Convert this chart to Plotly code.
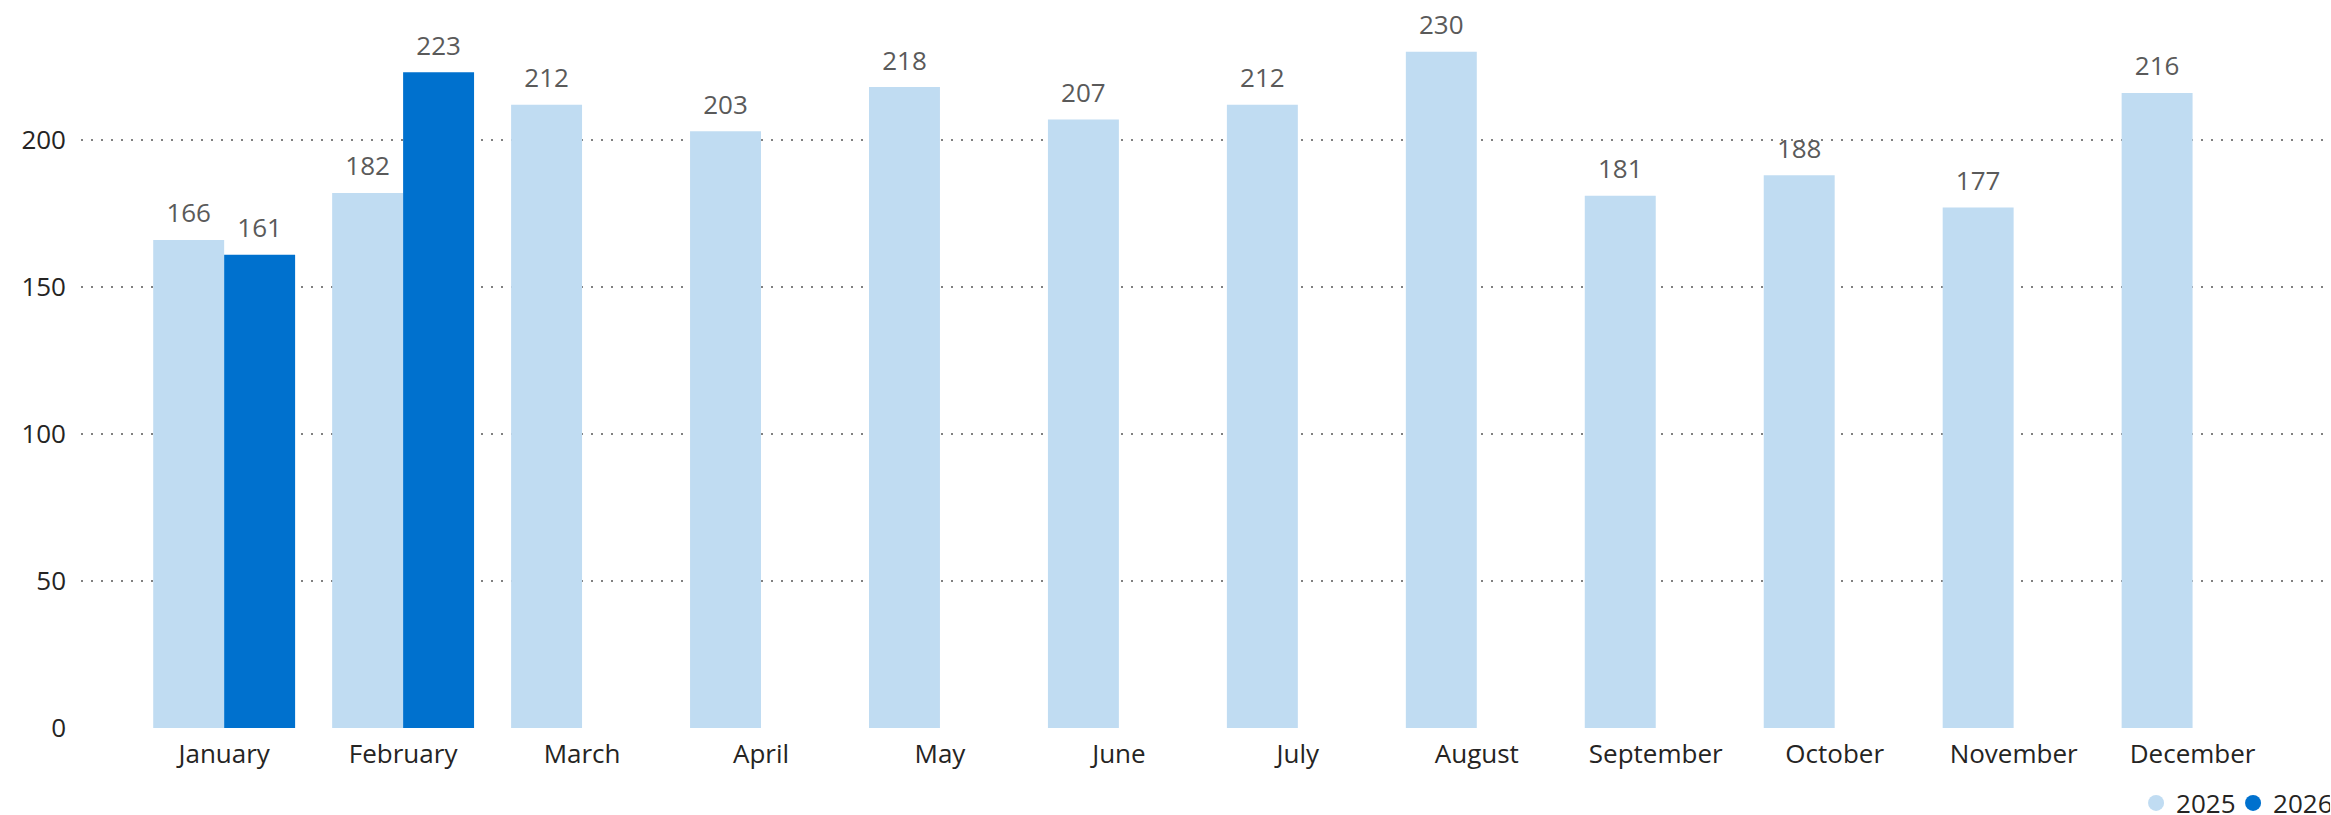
import plotly.graph_objects as go

months = ["January", "February", "March", "April", "May", "June", "July",
          "August", "September", "October", "November", "December"]
values_2025 = [166, 182, 212, 203, 218, 207, 212, 230, 181, 188, 177, 216]
values_2026 = [161, 223, None, None, None, None, None, None, None, None, None, None]
series_names = ["2025", "2026"]
colors = ["#C0DCF2", "#0071CE"]
y_ticks = [0, 50, 100, 150, 200]

FONT = "Segoe UI, Open Sans, sans-serif"
BARGAP = 0.207

fig = go.Figure()
for name, vals, col in zip(series_names, [values_2025, values_2026], colors):
    fig.add_trace(go.Bar(
        x=months, y=vals, name=name, marker_color=col, marker_line_width=0,
        showlegend=False, legendgroup=name, offsetgroup=name, alignmentgroup="a",
        hoverinfo="x+y",
    ))
for name, vals in zip(series_names, [values_2025, values_2026]):
    # data labels, grouped so they sit above their bars
    fig.add_trace(go.Scatter(
        x=months, y=vals, mode="markers+text", name=name + " labels",
        orientation="v", offsetgroup=name, alignmentgroup="a",
        text=[("" if v is None else str(v)) for v in vals],
        textposition="top center", cliponaxis=False,
        textfont=dict(family=FONT, size=26, color="#5A5A5A"),
        marker=dict(size=16, opacity=0), showlegend=False, hoverinfo="skip",
    ))
for name, col in zip(series_names, colors):
    # legend entries (circles), on a hidden overlay axis
    fig.add_trace(go.Scatter(
        x=[None], y=[None], mode="markers", name=name, legendgroup=name,
        marker=dict(symbol="circle", size=19, color=col),
        showlegend=True, hoverinfo="skip", xaxis="x2", yaxis="y2",
    ))

fig.update_layout(
    width=2331, height=815,
    margin=dict(l=81, r=6, t=10, b=87, autoexpand=False),
    paper_bgcolor="white", plot_bgcolor="white",
    barmode="group", bargap=BARGAP, bargroupgap=0,
    scattermode="group", scattergap=BARGAP,
    font=dict(family=FONT, size=26, color="#252423"),
    showlegend=True,
    legend=dict(orientation="h", x=0.9158, xanchor="left", y=-0.1045, yanchor="middle",
                font=dict(family=FONT, size=26, color="#252423"),
                itemwidth=30, entrywidth=52, entrywidthmode="pixels",
                bgcolor="rgba(0,0,0,0)", traceorder="normal"),
    xaxis=dict(range=[-0.8, 11.74], showgrid=False, zeroline=False, showline=False,
               ticks="", automargin=False, ticklabelstandoff=8,
               tickfont=dict(family=FONT, size=26, color="#252423")),
    yaxis=dict(range=[0, 244.2], tickvals=y_ticks, showgrid=True,
               gridcolor="#808080", gridwidth=2, griddash="2px,8px",
               zeroline=False, showline=False, ticks="", automargin=False,
               ticklabelstandoff=14,
               tickfont=dict(family=FONT, size=26, color="#252423")),
    xaxis2=dict(overlaying="x", visible=False, range=[0, 1]),
    yaxis2=dict(overlaying="y", visible=False, range=[0, 1]),
)

fig.write_html("out.html", config={"displayModeBar": False},
               post_script="document.body.style.margin='0';document.body.style.overflow='hidden';")
